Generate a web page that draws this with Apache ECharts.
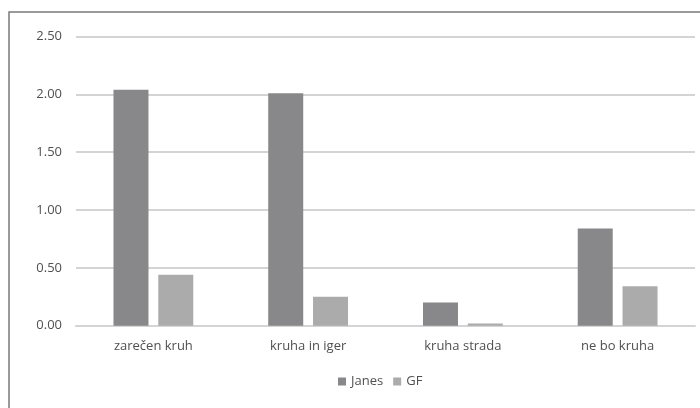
<!DOCTYPE html>
<html>
<head>
<meta charset="utf-8">
<script src="https://cdn.jsdelivr.net/npm/echarts@6/dist/echarts.min.js"></script>
<style>
  html, body { margin: 0; padding: 0; background: #fff; }
  #chart { width: 700px; height: 408px; }
</style>
</head>
<body>
<div id="chart"></div>
<script>
// Categories and series values
const categories = ['zarečen kruh', 'kruha in iger', 'kruha strada', 'ne bo kruha'];
const janes = [2.04, 2.01, 0.20, 0.84];
const gf = [0.44, 0.25, 0.02, 0.34];
const seriesNames = ['Janes', 'GF'];
const yTicks = [0, 0.5, 1.0, 1.5, 2.0, 2.5];

const chart = echarts.init(document.getElementById('chart'));
const font = '"Open Sans", sans-serif';
const textColor = '#505050';

chart.setOption({
  animation: false,
  backgroundColor: '#ffffff',
  graphic: [{
    type: 'rect',
    shape: { x: 9, y: 12, width: 720, height: 420 },
    style: { fill: 'none', stroke: '#7a7a7a', lineWidth: 1.5 },
    silent: true
  }],
  grid: { left: 76, right: 5, top: 36.5, bottom: 82.3 },
  legend: {
    data: seriesNames,
    left: 333,
    top: 370,
    itemWidth: 8,
    itemHeight: 8,
    itemGap: 10,
    icon: 'rect',
    textStyle: { color: textColor, fontSize: 13, fontFamily: font }
  },
  xAxis: {
    type: 'category',
    data: categories,
    axisTick: { show: false },
    axisLine: { lineStyle: { color: '#d4d4d4', width: 2 } },
    axisLabel: { color: textColor, fontSize: 13, fontFamily: font, margin: 14 }
  },
  yAxis: {
    type: 'value',
    min: yTicks[0],
    max: yTicks[yTicks.length - 1],
    interval: 0.5,
    axisLine: { show: false },
    axisTick: { show: false },
    axisLabel: {
      color: textColor, fontSize: 13, fontFamily: font, margin: 14,
      formatter: v => v.toFixed(2)
    },
    splitLine: { lineStyle: { color: '#d4d4d4', width: 2 } }
  },
  series: [
    {
      name: seriesNames[0], type: 'bar', data: janes,
      barWidth: 35, barGap: '28%',
      itemStyle: { color: '#88888a' }
    },
    {
      name: seriesNames[1], type: 'bar', data: gf,
      barWidth: 35,
      itemStyle: { color: '#ababab' }
    }
  ]
});
</script>
</body>
</html>
